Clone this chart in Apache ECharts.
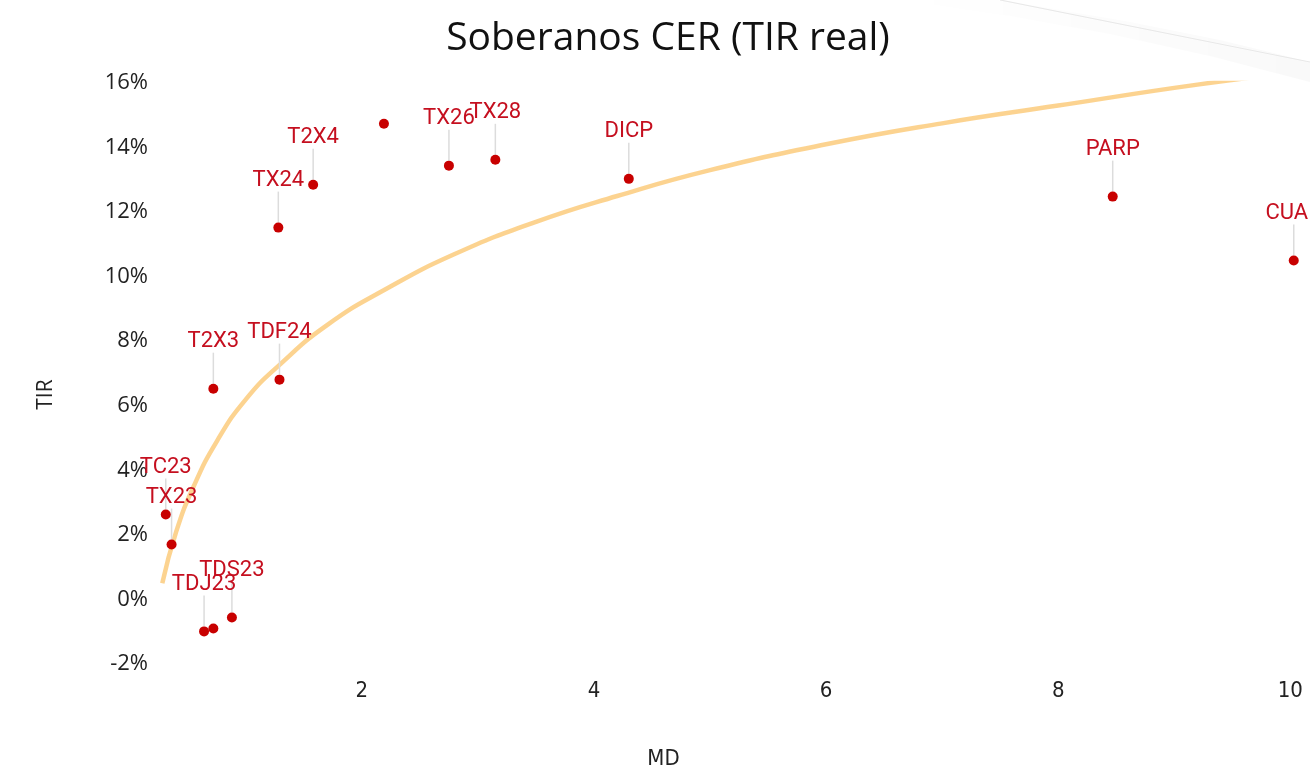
<!DOCTYPE html>
<html>
<head>
<meta charset="utf-8">
<title>Soberanos CER (TIR real)</title>
<script src="https://cdn.jsdelivr.net/npm/echarts@6/dist/echarts.min.js"></script>
<style>
  html, body { margin: 0; padding: 0; background: #fff; }
  #chart { width: 1310px; height: 767px; }
</style>
</head>
<body>
<div id="chart"></div>
<script>
// bonos: nombre, duracion modificada (MD) y TIR real en %
var names = ["TC23", "TX23", "TDJ23", "", "TDS23", "T2X3", "TDF24", "TX24", "T2X4", "", "TX26", "TX28", "DICP", "PARP", "CUAP"];
var md    = [0.31, 0.36, 0.64, 0.72, 0.88, 0.72, 1.29, 1.28, 1.58, 2.19, 2.75, 3.15, 4.30, 8.47, 10.03];
var tir   = [2.63, 1.70, -0.99, -0.90, -0.56, 6.53, 6.81, 11.52, 12.85, 14.74, 13.44, 13.62, 13.03, 12.48, 10.50];

// linea de tendencia
var trendMd  = [0.28, 0.4, 0.55, 0.75, 1.0, 1.3, 1.7, 2.2, 2.8, 3.5, 4.2, 5.0, 6.0, 7.0, 8.0, 9.2, 10.2];
var trendTir = [0.5, 2.1, 3.5, 4.9, 6.2, 7.3, 8.5, 9.6, 10.7, 11.7, 12.5, 13.3, 14.1, 14.75, 15.3, 15.95, 16.4];

var xTicks = [2, 4, 6, 8, 10];

var bonds = names.map(function (n, i) {
  var item = { name: n, value: [md[i], tir[i]] };
  if (!n) {
    item.label = { show: false };
    item.labelLine = { show: false };
  }
  return item;
});
var trend = trendMd.map(function (x, i) {
  return [x, trendTir[i]];
});

var myChart = echarts.init(document.getElementById("chart"));
var option = {
  animation: false,
  title: {
    text: "Soberanos CER (TIR real)",
    left: 663,
    textAlign: "center",
    top: 14,
    textStyle: {
      fontFamily: "Open Sans",
      fontSize: 39,
      fontWeight: "normal",
      color: "#111"
    }
  },
  grid: { left: 153, right: 0, top: 83, bottom: 103, outerBoundsMode: "none" },
  xAxis: {
    type: "value",
    min: 0.2,
    max: 10.17,
    name: "MD",
    nameLocation: "middle",
    nameGap: 84,
    nameTextStyle: {
      fontFamily: "Liberation Sans Narrow, DejaVu Sans Condensed, sans-serif",
      fontSize: 22,
      color: "#222",
      padding: [0, 136, 0, 0]
    },
    axisLine: { show: false },
    axisTick: { show: false },
    splitLine: { show: false },
    axisLabel: {
      customValues: xTicks,
      margin: 16,
      fontFamily: "Liberation Sans Narrow, DejaVu Sans Condensed, sans-serif",
      fontSize: 22,
      color: "#222"
    }
  },
  yAxis: {
    type: "value",
    min: -2,
    max: 16,
    interval: 2,
    name: "TIR",
    nameLocation: "middle",
    nameGap: 96,
    nameTextStyle: {
      fontFamily: "Open Sans",
      fontSize: 21,
      color: "#222",
      padding: [0, 42, 0, 0]
    },
    axisLine: { show: false },
    axisTick: { show: false },
    splitLine: { show: false },
    axisLabel: {
      formatter: "{value}%",
      margin: 5,
      fontFamily: "Open Sans",
      fontSize: 22,
      color: "#222",
      padding: [3, 0, 0, 0]
    }
  },
  graphic: [
    {
      type: "polygon",
      silent: true,
      z: 100,
      shape: {
        points: [[900, 0], [1010, 16], [1110, 34], [1210, 56], [1310, 82],
                 [1310, 62], [1220, 40], [1130, 22], [1060, 10], [1000, 0]]
      },
      style: {
        fill: {
          type: "linear", x: 0, y: 0, x2: 1, y2: 0,
          colorStops: [
            { offset: 0, color: "rgba(0,0,0,0)" },
            { offset: 1, color: "rgba(0,0,0,0.025)" }
          ]
        }
      }
    },
    {
      type: "bezierCurve",
      silent: true,
      z: 101,
      shape: { x1: 1000, y1: 0, cpx1: 1150, cpy1: 30, x2: 1310, y2: 62 },
      style: { fill: null, stroke: "#e8e8e8", lineWidth: 1.2 }
    }
  ],
  series: [
    {
      type: "line",
      data: trend,
      smooth: true,
      showSymbol: false,
      silent: true,
      z: 1,
      lineStyle: { color: "#fbc874", width: 4.5, opacity: 0.8 }
    },
    {
      type: "scatter",
      data: bonds,
      symbolSize: 10,
      z: 3,
      itemStyle: { color: "#c80000", opacity: 1 },
      label: {
        show: true,
        position: "top",
        formatter: "{b}",
        fontFamily: "Roboto",
        fontSize: 22,
        color: "#c50f1f"
      },
      labelLayout: { dy: -26 },
      labelLine: {
        show: true,
        lineStyle: { color: "#dcdcdc", width: 1.5 }
      }
    }
  ]
};
myChart.setOption(option);
</script>
</body>
</html>
